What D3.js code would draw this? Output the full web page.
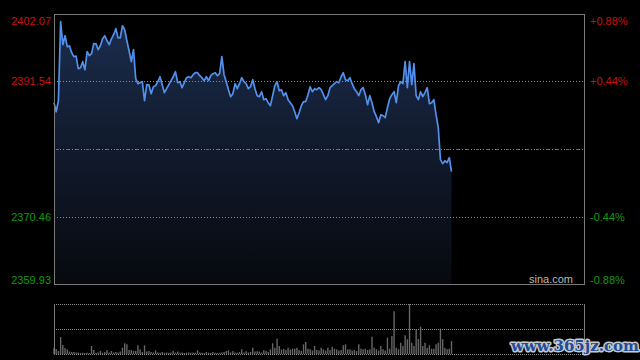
<!DOCTYPE html>
<html><head><meta charset="utf-8">
<script src="https://cdn.jsdelivr.net/npm/d3@7/dist/d3.min.js"></script>
<style>html,body{margin:0;padding:0;background:#000;}svg{display:block;}</style>
</head><body>
<svg id="c" width="640" height="360"></svg>
<script>
// ---- data ----
const prevClose = 2381.00;
const priceTicks = [2402.07, 2391.54, 2370.46, 2359.93];
const pctTicks = ["+0.88%", "+0.44%", "-0.44%", "-0.88%"];
const totalMinutes = 241;
const prices = [
2388.23,2386.82,2388.54,2400.87,2397.28,2398.68,2396.97,2397.10,2396.03,2395.41,
2395.50,2393.53,2393.69,2394.63,2393.38,2396.19,2395.56,2395.87,2397.44,2397.40,
2396.50,2397.12,2398.22,2398.68,2397.90,2397.28,2398.20,2398.84,2399.78,2398.37,
2398.35,2400.24,2399.62,2397.90,2396.34,2394.63,2396.50,2391.97,2391.19,2391.35,
2391.50,2388.54,2391.04,2391.00,2389.63,2390.72,2390.88,2391.50,2392.28,2391.04,
2389.79,2390.41,2391.04,2391.66,2392.28,2393.07,2391.35,2391.50,2390.57,2391.35,
2392.13,2392.28,2392.13,2392.60,2392.91,2392.91,2392.44,2392.13,2391.66,2392.28,
2391.66,2392.44,2392.75,2392.91,2392.44,2392.75,2395.41,2392.60,2391.50,2390.26,
2389.16,2389.63,2391.19,2390.41,2391.19,2392.13,2391.50,2391.19,2390.41,2390.72,
2391.82,2390.41,2389.32,2389.16,2389.94,2388.70,2388.85,2388.23,2387.76,2389.32,
2390.88,2391.50,2390.10,2390.26,2389.32,2389.79,2388.70,2388.23,2387.76,2386.82,
2385.73,2386.67,2387.76,2388.38,2388.40,2389.48,2390.72,2389.94,2390.41,2390.26,
2390.57,2390.26,2389.48,2388.70,2389.32,2390.57,2390.88,2391.19,2391.50,2391.35,
2392.28,2392.91,2391.82,2391.66,2392.13,2391.19,2390.41,2389.94,2389.32,2390.26,
2390.57,2389.48,2387.91,2389.32,2388.23,2386.82,2386.04,2385.11,2386.35,2386.20,
2385.89,2387.45,2388.85,2389.48,2389.94,2388.23,2390.88,2391.50,2391.19,2394.63,
2390.57,2394.63,2391.04,2394.31,2389.32,2388.70,2389.94,2389.16,2389.79,2390.57,
2388.07,2388.23,2388.70,2386.35,2384.33,2379.33,2378.71,2379.17,2378.86,2379.64,
2377.46
];
const volumes = [
6.3,5,3,17,9,6,4.5,2.5,2,2,1.5,1.5,1,1.3,1,1.3,1,8,4,1.3,
1.5,3,1.3,2,3.7,1.5,3,1.5,2,1.5,2.5,6.3,10.7,9.7,4,4,3,3,8.7,4.5,
2,8.7,2.5,3,2,1.5,3.7,1.5,1.3,2,1.3,1.5,1.3,1.5,3,1.5,2.5,1.3,1.5,1,
1.3,1.5,1.3,1.5,1.3,3.7,1.5,1.3,1,2,1.3,1,2,1.3,1,1.3,1.5,2,3,3.7,
1.5,3,1.5,1.3,2,4.7,1.5,2.7,1.5,2,6.3,2.5,2.7,2.5,1.5,3.7,3,2,4.7,10.7,
6.3,15.3,8,4.5,5,4,6.3,4.5,5.3,5.3,6.3,4,3,9.7,12,5.3,4.7,3.5,8,4,
3.5,6.3,4.7,3.5,6.3,4,7.3,5.3,4.7,3.5,4,8.7,9.7,4.5,4.7,3.5,4,3,9.7,5.3,
4.7,5.3,4,4.7,17.3,6.3,4.7,3.5,8,4.7,3.5,16.3,5.3,18,42.7,6.3,4.7,11.3,8,18.7,
14.7,50,11.3,8,24.7,15,27.3,8,11.3,6.3,8.7,5.3,5.3,9.7,11.3,25.3,14.7,6.3,4.7,5.3,
13
];

// ---- layout ----
const L = 54, R = 584, T = 14, B = 284;
const VT = 304, VB = 354;
const svg = d3.select("#c");
svg.append("rect").attr("width",640).attr("height",360).attr("fill","#000");

const x = d3.scaleLinear().domain([0, totalMinutes-1]).range([L, R]);
const y = d3.scaleLinear().domain([priceTicks[3], priceTicks[0]]).range([B, T]);
const yv = d3.scaleLinear().domain([0, d3.max(volumes)]).range([VB, VT]);

const defs = svg.append("defs");
const g = defs.append("linearGradient").attr("id","ag").attr("gradientUnits","userSpaceOnUse")
  .attr("x1",0).attr("y1",T).attr("x2",0).attr("y2",B);
g.append("stop").attr("offset","0").attr("stop-color","#1b2d4e");
g.append("stop").attr("offset","0.45").attr("stop-color","#121c30");
g.append("stop").attr("offset","1").attr("stop-color","#07090e");

// area
svg.append("path").datum(prices)
  .attr("d", d3.area().x((d,i)=>x(i)).y0(B).y1(d=>y(d)))
  .attr("fill","url(#ag)");

// grid lines
[priceTicks[1], priceTicks[2]].forEach(v=>{
  svg.append("line").attr("x1",L).attr("x2",R).attr("y1",Math.round(y(v))+0.5).attr("y2",Math.round(y(v))+0.5)
    .attr("stroke","#8a8a8a").attr("stroke-dasharray","1,2");
});
const yc = Math.round(y(prevClose))+0.5;
svg.append("line").attr("x1",L).attr("x2",R).attr("y1",yc).attr("y2",yc)
  .attr("stroke","#8a8a8a").attr("stroke-dasharray","1,2");
svg.append("line").attr("x1",L+2).attr("x2",R).attr("y1",yc).attr("y2",yc)
  .attr("stroke","#b5581e").attr("stroke-dasharray","3,7");

// price line
svg.append("path").datum(prices)
  .attr("d", d3.line().x((d,i)=>x(i)).y(d=>y(d)))
  .attr("fill","none").attr("stroke","#5290ec").attr("stroke-width",1.7).attr("stroke-linejoin","round");

// frame
svg.append("rect").attr("x",L+0.5).attr("y",T+0.5).attr("width",R-L).attr("height",B-T)
  .attr("fill","none").attr("stroke","#7a7a7a");

// axes labels
const leftAxis = d3.axisLeft(y).tickValues(priceTicks).tickSize(0).tickPadding(3).tickFormat(d3.format(".2f"));
const la = svg.append("g").attr("transform",`translate(${L},0)`).call(leftAxis);
la.select(".domain").remove();
const rightAxis = d3.axisRight(y).tickValues(priceTicks).tickSize(0).tickPadding(6).tickFormat((d,i)=>pctTicks[i]);
const ra = svg.append("g").attr("transform",`translate(${R},0)`).call(rightAxis);
ra.select(".domain").remove();
[la, ra].forEach(a=>{
  a.selectAll("text")
   .attr("font-family","'Liberation Sans', Arial, sans-serif").attr("font-size",11)
   .attr("fill", d=> d>prevClose ? "#c81212" : "#129a12")
   .attr("dy", (d,i)=> i===0 ? "0.95em" : (i===3 ? "-0.05em" : "0.32em"));
});

svg.append("text").attr("x",573).attr("y",283).attr("text-anchor","end")
  .attr("font-family","'Liberation Sans', Arial, sans-serif").attr("font-size",11)
  .attr("fill","#b8b8b8").text("sina.com");

// volume panel
svg.append("g").selectAll("line.v").data(volumes).join("line")
  .attr("x1",(d,i)=>x(i)).attr("x2",(d,i)=>x(i))
  .attr("y1",VB).attr("y2",d=>yv(d))
  .attr("stroke","#666").attr("stroke-width",1.4);
[VT, (VT+VB)/2, VB].forEach(v=>{
  svg.append("line").attr("x1",L).attr("x2",R).attr("y1",v+0.5).attr("y2",v+0.5)
    .attr("stroke","#8a8a8a").attr("stroke-dasharray","1,1");
});
[L, R].forEach(v=>{
  svg.append("line").attr("x1",v+0.5).attr("x2",v+0.5).attr("y1",VT).attr("y2",VB+1)
    .attr("stroke","#7a7a7a");
});

// watermark
svg.append("text").attr("x",575).attr("y",351).attr("text-anchor","middle")
  .attr("font-family","'DejaVu Serif', serif").attr("font-weight","bold").attr("font-size",15)
  .attr("fill","#1d4d9a").attr("stroke","#c8c8c8").attr("stroke-width",3)
  .attr("paint-order","stroke").attr("stroke-linejoin","round")
  .text("www.365jz.com");
</script>
</body></html>
